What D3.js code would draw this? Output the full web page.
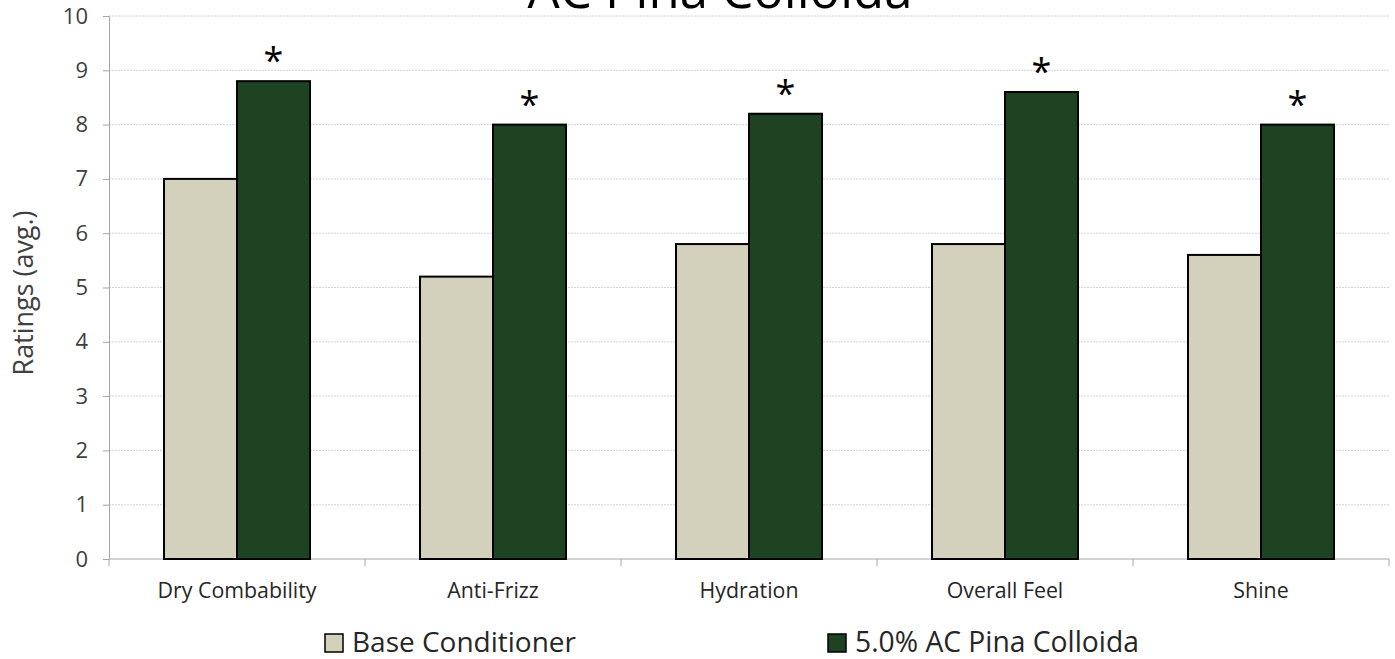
<!DOCTYPE html>
<html><head><meta charset="utf-8">
<script src="https://cdn.jsdelivr.net/npm/d3@7"></script>
<style>body{margin:0;background:#fff}svg{display:block;font-family:"Open Sans",sans-serif}</style>
</head><body><svg id="c" width="1395" height="659"></svg>
<script>
const categories = ["Dry Combability","Anti-Frizz","Hydration","Overall Feel","Shine"];
const seriesNames = ["Base Conditioner","5.0% AC Pina Colloida"];
const baseValues = [7.0,5.2,5.8,5.8,5.6];
const treatedValues = [8.8,8.0,8.2,8.6,8.0];
const significant = [true,true,true,true,true];
const yTicks = [0,1,2,3,4,5,6,7,8,9,10];
const colors = ["#d3d1bc","#1e4222"];

const svg = d3.select("#c");
const L=109,R=1389,T=16,B=559;
const x = d3.scaleBand().domain(categories).range([L,R]).paddingInner(0).paddingOuter(0);
const y = d3.scaleLinear().domain([0,10]).range([B,T]);

function fit(sel, target){
  sel.each(function(){
    const n=this; const fs=parseFloat(n.getAttribute("font-size"));
    const w=n.getComputedTextLength(); if(w>0) n.setAttribute("font-size",(fs*target/w).toFixed(2));
  });
}

// gridlines
svg.append("g").selectAll("line").data(yTicks.filter(d=>d>0)).join("line")
 .attr("x1",L).attr("x2",R).attr("y1",d=>y(d)).attr("y2",d=>y(d))
 .attr("stroke","#d4d4d4").attr("stroke-width",1).attr("stroke-dasharray","2,1");

// y axis
const ya = svg.append("g").attr("transform",`translate(${L},0)`)
 .call(d3.axisLeft(y).tickValues(yTicks).tickSize(6).tickPadding(15));
ya.select(".domain").attr("stroke","#a6a6a6");
ya.selectAll(".tick line").attr("stroke","#a6a6a6");
ya.selectAll("text").attr("font-size",22).attr("fill","#404040").attr("font-family","'Open Sans',sans-serif");

// x axis line + ticks at boundaries
svg.append("line").attr("x1",L).attr("x2",R).attr("y1",B).attr("y2",B).attr("stroke","#a6a6a6");
const bounds = categories.map(c=>x(c)).concat([R]);
svg.append("g").selectAll("line").data(bounds).join("line")
 .attr("x1",d=>d).attr("x2",d=>d).attr("y1",B).attr("y2",B+7).attr("stroke","#a6a6a6");
const xl = svg.append("g").selectAll("text").data(categories).join("text")
 .attr("x",d=>x(d)+x.bandwidth()/2).attr("y",598).attr("text-anchor","middle")
 .attr("font-size",17).attr("fill","#262626").text(d=>d);
(function(){const n=xl.nodes()[0];const w=n.getComputedTextLength();const fs=17*159/w;xl.attr("font-size",fs.toFixed(2));})();

// bars
const barW = 73;
const data = categories.map((c,i)=>({c,vals:[baseValues[i],treatedValues[i]],sig:significant[i]}));
const g = svg.append("g").selectAll("g").data(data).join("g");
g.selectAll("rect").data(d=>d.vals.map((v,j)=>({c:d.c,v,j}))).join("rect")
 .attr("x",d=>x(d.c)+x.bandwidth()/2+(d.j-1)*barW)
 .attr("width",barW).attr("y",d=>y(d.v)).attr("height",d=>B-y(d.v))
 .attr("fill",d=>colors[d.j]).attr("stroke","#000").attr("stroke-width",2);
g.filter(d=>d.sig).append("text")
 .attr("x",d=>x(d.c)+x.bandwidth()/2+barW/2).attr("y",d=>y(d.vals[1])-35)
 .attr("dy","0.75em")
 .attr("text-anchor","middle").attr("font-size",36).attr("fill","#000").text("*");

// title
const title = svg.append("text").attr("x",720).attr("y",8).attr("text-anchor","middle").attr("font-size",40).attr("fill","#000").text("AC Pina Colloida");
fit(title,385);

// y label
const yl = svg.append("text").attr("transform","translate(33,293) rotate(-90)").attr("text-anchor","middle")
 .attr("font-size",22).attr("fill","#404040").text("Ratings (avg.)");
fit(yl,165);

// legend
const leg = [{x:325,name:seriesNames[0],c:colors[0],w:224},{x:828,name:seriesNames[1],c:colors[1],w:284}];
const lg = svg.append("g").selectAll("g").data(leg).join("g");
lg.append("rect").attr("x",d=>d.x).attr("y",634).attr("width",18).attr("height",18).attr("fill",d=>d.c).attr("stroke","#000").attr("stroke-width",1.5);
lg.append("text").attr("x",d=>d.x+27).attr("y",652).attr("font-size",25).attr("fill","#262626").text(d=>d.name)
 .each(function(d){fit(d3.select(this),d.w);});
</script></body></html>
